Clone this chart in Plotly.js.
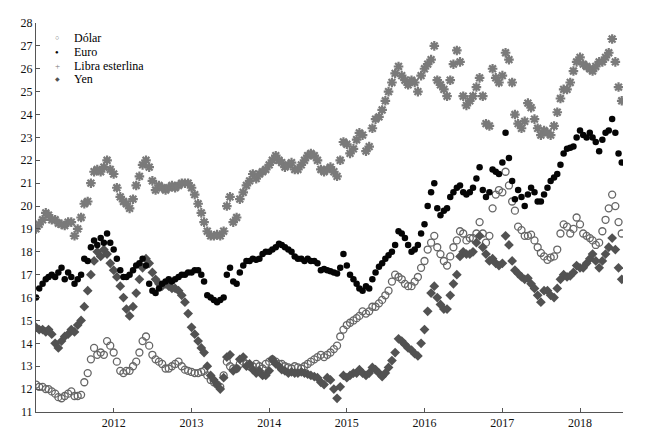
<!DOCTYPE html>
<html>
<head>
<meta charset="utf-8">
<script src="https://cdn.plot.ly/plotly-3.0.1.min.js"></script>
<style>
html,body{margin:0;padding:0;background:#fff;}
#chart{width:647px;height:431px;}
</style>
</head>
<body>
<div id="chart"></div>
<script>
// Sampling grid: 1st and 16th of each month, Jan 2011 .. Jul 2018
const startYear = 2011;
const nPoints = 182;

const seriesNames = ["Dólar", "Euro", "Libra esterlina", "Yen"];

const dolar = [
12.2,12.1,12.1,12.0,12.0,11.9,11.8,11.65,11.6,11.7,11.8,11.9,11.7,11.7,11.75,12.3,12.7,13.3,13.8,13.5,13.6,13.5,14.1,13.9,13.6,13.2,12.8,12.7,12.8,12.8,13.0,13.2,13.6,14.1,14.3,13.9,13.5,13.3,13.2,13.1,12.9,12.9,13.0,13.1,13.2,
13.0,12.85,12.8,12.75,12.7,12.7,12.75,12.8,12.6,12.4,12.3,12.2,12.1,12.6,13.2,13.0,12.9,12.9,13.1,13.2,13.1,13.0,13.0,13.1,13.0,12.9,13.1,13.2,13.3,13.2,13.1,13.1,13.0,12.95,12.9,13.0,12.95,12.9,13.0,13.1,13.2,13.3,13.4,13.5,
13.4,13.5,13.6,13.75,13.9,14.3,14.6,14.8,14.9,15.0,15.1,15.2,15.4,15.3,15.4,15.6,15.6,15.75,15.9,16.1,16.3,16.7,17.0,16.9,16.8,16.6,16.5,16.5,16.7,16.9,17.3,17.6,18.1,18.4,18.7,18.2,17.9,17.6,17.4,17.8,18.2,18.5,18.9,18.8,18.5,18.6,
18.6,18.8,19.3,18.8,18.4,18.7,19.9,20.5,20.7,20.6,21.5,20.9,20.2,19.8,19.1,18.95,18.7,18.7,18.75,18.5,18.2,17.95,17.8,17.65,17.75,17.8,18.1,18.8,19.2,19.1,18.8,19.0,19.5,19.2,18.8,18.7,18.6,18.5,18.3,18.4,18.9,19.4,19.9,20.5,20.0,19.3,18.8
];

const euro = [
16.0,16.4,16.6,16.8,16.9,17.0,16.9,17.1,17.3,16.8,17.1,16.9,16.6,16.8,17.0,17.7,17.6,18.2,18.5,18.3,18.6,18.4,18.8,18.4,18.1,17.7,17.2,16.9,16.9,17.0,17.2,17.4,17.5,17.7,17.4,16.6,16.3,16.2,16.4,16.6,16.7,16.8,16.7,16.8,16.9,
17.0,17.0,17.1,17.1,17.2,17.2,17.0,16.7,16.1,16.0,15.9,15.8,15.9,16.0,17.0,17.3,16.7,16.6,17.1,17.4,17.6,17.6,17.7,17.65,17.7,17.9,18.0,18.0,18.1,18.2,18.35,18.3,18.2,18.1,18.0,17.8,17.7,17.7,17.6,17.7,17.6,17.6,17.5,17.2,
17.25,17.2,17.15,17.1,17.05,17.3,17.9,17.4,17.0,16.8,16.6,16.4,16.3,16.5,16.4,16.8,17.1,17.35,17.5,17.7,17.85,18.0,18.3,18.9,18.8,18.6,18.3,18.0,18.1,18.3,18.8,19.2,20.0,20.6,21.0,19.9,19.6,19.8,19.9,20.4,20.6,20.8,20.9,20.6,20.5,20.6,
20.8,21.2,21.7,20.7,20.4,20.6,21.6,21.5,21.4,21.9,23.2,22.1,21.1,20.3,20.7,20.4,20.0,20.5,20.8,20.6,20.2,20.2,20.5,20.8,21.1,21.25,21.4,21.8,22.3,22.5,22.55,22.6,23.0,23.3,23.1,23.0,23.2,23.0,22.8,22.4,22.9,23.2,23.3,23.8,23.2,22.3,21.9
];

const libra = [
19.0,19.2,19.4,19.7,19.6,19.4,19.4,19.25,19.2,19.15,19.3,19.3,18.7,19.0,19.5,20.1,20.2,21.0,21.5,21.6,21.5,21.7,22.0,21.6,21.4,20.8,20.4,20.2,20.1,19.9,20.3,20.9,21.3,21.8,22.0,21.7,21.1,20.7,20.9,20.8,20.7,20.8,20.9,20.8,20.9,
21.0,21.0,21.0,20.8,20.5,20.1,19.7,19.3,18.9,18.7,18.7,18.75,18.7,18.9,20.0,20.4,19.3,19.5,20.3,20.6,20.9,21.1,21.4,21.2,21.4,21.5,21.6,21.8,22.0,22.2,22.0,21.9,21.7,21.8,21.9,21.6,21.6,21.8,22.0,22.2,22.3,22.2,22.0,21.6,
21.5,21.6,21.7,21.5,21.3,22.0,22.8,22.7,22.3,22.5,22.9,23.2,23.1,22.4,22.6,23.4,23.8,23.9,24.2,24.6,25.0,25.4,25.8,26.1,25.7,25.5,25.3,25.5,25.4,25.0,25.7,26.0,26.2,26.4,27.0,25.5,25.3,25.1,24.8,25.5,26.2,26.8,26.3,24.8,24.4,24.6,
24.8,25.2,25.6,24.8,23.6,23.5,26.0,25.6,25.4,25.7,26.7,26.4,25.4,24.0,23.6,23.4,23.7,24.5,24.3,23.8,23.4,23.1,23.3,23.2,23.1,23.5,24.1,24.7,25.1,25.1,25.4,25.9,26.3,26.5,26.2,26.1,26.0,25.9,26.1,26.3,26.3,26.5,26.7,27.3,26.3,25.2,24.6
];

const yen = [
14.7,14.6,14.6,14.5,14.6,14.4,14.0,13.8,14.1,14.3,14.4,14.6,14.5,14.8,15.0,15.6,16.3,17.0,17.6,18.0,17.8,18.1,17.9,17.5,17.2,16.9,16.5,16.0,15.5,15.2,15.6,16.2,16.8,17.3,17.7,17.5,17.1,16.8,16.6,16.5,16.6,16.5,16.4,16.4,16.3,
16.1,15.8,15.3,14.7,14.4,14.1,13.8,13.6,13.0,12.6,12.4,12.2,12.0,12.5,13.4,13.5,12.8,12.9,13.3,13.4,13.0,13.1,12.85,12.7,12.8,12.6,12.6,12.8,13.3,13.1,13.0,12.85,12.8,12.7,12.75,12.7,12.7,12.75,12.7,12.65,12.6,12.55,12.5,12.3,
12.2,12.5,12.4,12.0,11.6,12.1,12.6,12.5,12.6,12.7,12.7,12.85,12.7,12.6,12.7,12.95,12.85,12.7,12.55,12.7,12.95,13.25,13.6,14.2,14.1,13.95,13.8,13.7,13.55,13.45,14.0,14.6,15.4,16.2,16.5,16.0,15.7,15.5,15.5,16.1,16.6,17.0,17.8,18.0,17.9,17.9,
18.0,18.4,18.7,18.2,17.9,17.6,17.7,17.5,17.4,17.5,18.7,18.3,17.6,17.2,17.05,16.9,16.8,16.85,16.6,16.4,16.1,15.8,16.3,16.3,16.1,16.0,16.4,16.8,17.0,16.9,16.95,17.1,17.4,17.3,17.3,17.5,17.7,17.9,17.6,17.3,17.6,17.9,18.2,18.6,18.1,17.3,16.8
];

const yearTicks = ["2012","2013","2014","2015","2016","2017","2018"];
const yTicks = [11,12,13,14,15,16,17,18,19,20,21,22,23,24,25,26,27,28];

// date grid
const dates = [];
for (let i = 0; i < nPoints; i++) {
  const y = startYear + Math.floor(i / 24);
  const m = Math.floor((i % 24) / 2) + 1;
  const d = (i % 2 === 0) ? 1 : 16;
  dates.push(y + "-" + String(m).padStart(2, "0") + "-" + String(d).padStart(2, "0"));
}

const FONT = "'Liberation Serif', 'Times New Roman', serif";

const styles = [
  {symbol: "circle-open", size: 7, color: "#666666", line: {width: 1.3, color: "#666666"}},
  {symbol: "circle", size: 6.5, color: "#050505", line: {width: 0}},
  {symbol: "asterisk-open", size: 8, color: "#7a7a7a", line: {width: 2.2, color: "#7a7a7a"}},
  {symbol: "diamond", size: 7.5, color: "#525252", line: {width: 0}}
];
const seriesData = [dolar, euro, libra, yen];
const drawOrder = [0, 3, 2, 1];

const traces = drawOrder.map(k => ({
  type: "scatter",
  mode: "markers",
  name: seriesNames[k],
  x: dates,
  y: seriesData[k],
  marker: styles[k],
  showlegend: false,
  hoverinfo: "x+y+name"
}));

// legend drawn as text annotations
const legendGlyphs = ["○", "●", "+", "◆"];
const legendColors = ["#707070", "#050505", "#7a7a7a", "#525252"];
const legendSizes = [7, 6, 9, 6];
const legendY = [0.961, 0.925, 0.889, 0.855];
const annotations = [];
seriesNames.forEach((nm, k) => {
  annotations.push({
    xref: "paper", yref: "paper", x: 0.0358, y: legendY[k],
    xanchor: "center", yanchor: "middle", showarrow: false,
    text: legendGlyphs[k], font: {family: FONT, size: legendSizes[k], color: legendColors[k]}
  });
  annotations.push({
    xref: "paper", yref: "paper", x: 0.0605, y: legendY[k],
    xanchor: "left", yanchor: "middle", showarrow: false,
    text: nm, font: {family: FONT, size: 12, color: "#000"}
  });
});

const layout = {
  width: 647, height: 431,
  margin: {l: 36, r: 24, t: 23, b: 19, pad: 0},
  paper_bgcolor: "#ffffff",
  plot_bgcolor: "#ffffff",
  font: {family: FONT, size: 12, color: "#111"},
  showlegend: false,
  xaxis: {
    type: "date",
    range: ["2011-01-01", "2018-07-22"],
    tickvals: yearTicks.map(y => y + "-01-01"),
    ticktext: yearTicks,
    ticks: "inside", ticklen: 4, tickwidth: 1, tickcolor: "#555",
    showline: true, linecolor: "#555", linewidth: 1,
    showgrid: false, zeroline: false,
    tickfont: {family: FONT, size: 12, color: "#111"}
  },
  yaxis: {
    range: [11, 28],
    tickvals: yTicks,
    ticktext: yTicks.map(String),
    ticks: "inside", ticklen: 4, tickwidth: 1, tickcolor: "#555",
    showline: true, linecolor: "#555", linewidth: 1,
    showgrid: false, zeroline: false,
    tickfont: {family: FONT, size: 12, color: "#111"}
  },
  annotations: annotations
};

Plotly.newPlot("chart", traces, layout, {displayModeBar: false, staticPlot: true});
</script>
</body>
</html>
